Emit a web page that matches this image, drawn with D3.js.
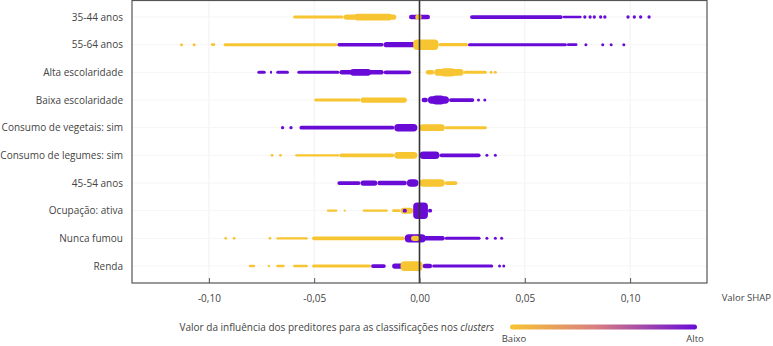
<!DOCTYPE html>
<html>
<head>
<meta charset="utf-8">
<script src="https://cdn.jsdelivr.net/npm/d3@7"></script>
<style>
  body { margin: 0; background: #fff; }
  svg { font-family: "Open Sans", sans-serif; }
</style>
</head>
<body>
<svg id="chart"></svg>
<script>
// set the dimensions of the picture
var width = 773;
var height = 346;
var plot = { left: 132, right: 707, top: 0.5, bottom: 283 };

var features = ['35-44 anos', '55-64 anos', 'Alta escolaridade', 'Baixa escolaridade',
  'Consumo de vegetais: sim', 'Consumo de legumes: sim', '45-54 anos',
  'Ocupação: ativa', 'Nunca fumou', 'Renda'];

var xTicks = [-0.10, -0.05, 0, 0.05, 0.10];

// swarm pieces: [shap from, shap to, density, feature level (0 low, 1 high)]
// from == to means a single point
var swarm_35_44 = [
  [-0.060, -0.036, 2, 0], [-0.036, -0.011, 3.5, 0], [-0.031, -0.013, 4.5, 0],
  [-0.005, 0.005, 3, 1], [-0.002, 0.001, 3.5, 0],
  [0.024, 0.068, 2.5, 1], [0.068, 0.077, 1.8, 1],
  [0.0785, 0.0785, 1.8, 1], [0.081, 0.081, 1.8, 1], [0.083, 0.083, 1.8, 1], [0.086, 0.086, 1.8, 1], [0.088, 0.088, 1.8, 1],
  [0.099, 0.099, 1.8, 1], [0.102, 0.102, 1.8, 1], [0.105, 0.105, 1.8, 1], [0.109, 0.109, 1.8, 1]
];
var swarm_55_64 = [
  [-0.113, -0.113, 1.6, 0], [-0.107, -0.107, 1.6, 0], [-0.099, -0.097, 1.8, 0],
  [-0.093, -0.039, 2, 0], [-0.039, -0.017, 2.3, 1], [-0.017, -0.002, 3.5, 1],
  [-0.003, 0.009, 7, 0], [0.009, 0.023, 2.2, 0],
  [0.023, 0.070, 2, 1], [0.070, 0.075, 1.8, 1],
  [0.079, 0.079, 1.6, 1], [0.087, 0.087, 1.6, 1], [0.091, 0.091, 1.6, 1], [0.097, 0.097, 1.6, 1]
];
var swarm_alta = [
  [-0.077, -0.073, 2, 1], [-0.071, -0.070, 2, 1], [-0.068, -0.062, 2, 1],
  [-0.058, -0.038, 2, 1], [-0.038, -0.017, 3, 1], [-0.033, -0.023, 4.5, 1], [-0.017, -0.004, 2.5, 1],
  [0.003, 0.007, 3, 0], [0.007, 0.021, 4.5, 0], [0.010, 0.017, 5.5, 0], [0.021, 0.032, 2, 0],
  [0.034, 0.034, 1.6, 0], [0.036, 0.036, 1.6, 0]
];
var swarm_baixa = [
  [-0.050, -0.028, 2, 0], [-0.028, -0.006, 3.5, 0],
  [0.001, 0.004, 3, 1], [0.004, 0.014, 5, 1], [0.006, 0.012, 6, 1], [0.014, 0.026, 2.5, 1],
  [0.028, 0.028, 1.6, 1], [0.031, 0.031, 1.6, 1]
];
var swarm_vegetais = [
  [-0.065, -0.065, 1.8, 1], [-0.061, -0.061, 1.8, 1],
  [-0.057, -0.012, 2.5, 1], [-0.012, -0.001, 5, 1],
  [0, 0.012, 4.5, 0], [0.012, 0.032, 2, 0]
];
var swarm_legumes = [
  [-0.070, -0.070, 1.5, 0], [-0.066, -0.066, 1.5, 0],
  [-0.059, -0.038, 1.6, 0], [-0.038, -0.012, 2.5, 0], [-0.012, -0.001, 4.5, 0],
  [0, 0.0095, 5, 1], [0.0095, 0.029, 2.5, 1],
  [0.032, 0.032, 1.6, 1], [0.036, 0.036, 1.6, 1]
];
var swarm_45_54 = [
  [-0.039, -0.028, 2.5, 1], [-0.028, -0.020, 3.5, 1], [-0.020, -0.006, 3, 1], [-0.006, -0.0005, 5, 1],
  [0, 0.012, 5, 0], [0.012, 0.018, 2.5, 0]
];
var swarm_ocupacao = [
  [-0.044, -0.039, 1.5, 0], [-0.036, -0.035, 1.5, 0], [-0.027, -0.015, 1.5, 0], [-0.013, -0.009, 1.8, 0],
  [-0.009, -0.003, 4, 0], [-0.008, -0.006, 2.5, 1],
  [-0.003, 0.004, 11, 1], [0.004, 0.006, 2.5, 1]
];
var swarm_fumou = [
  [-0.092, -0.092, 1.5, 0], [-0.088, -0.088, 1.5, 0], [-0.071, -0.071, 1.5, 0],
  [-0.068, -0.053, 1.6, 0], [-0.051, -0.007, 2.5, 0],
  [-0.007, 0.003, 5.5, 1], [-0.004, 0.0, 3.5, 0],
  [0.002, 0.012, 3, 1], [0.012, 0.029, 2, 1],
  [0.032, 0.032, 1.6, 1], [0.036, 0.036, 1.6, 1], [0.039, 0.039, 1.6, 1]
];
var swarm_renda = [
  [-0.081, -0.078, 1.6, 0], [-0.072, -0.071, 1.6, 0], [-0.068, -0.064, 1.6, 0], [-0.060, -0.053, 1.6, 0],
  [-0.051, -0.023, 2, 0], [-0.023, -0.016, 2.5, 1], [-0.013, -0.006, 3.5, 1],
  [-0.009, 0.0015, 6.5, 0], [0.0015, 0.006, 3, 1], [0.006, 0.035, 2, 1],
  [0.038, 0.038, 1.6, 1], [0.040, 0.040, 1.6, 1]
];

var swarms = [swarm_35_44, swarm_55_64, swarm_alta, swarm_baixa, swarm_vegetais,
  swarm_legumes, swarm_45_54, swarm_ocupacao, swarm_fumou, swarm_renda];

var lowColor = '#f7c531';
var highColor = '#680bd7';

var svg = d3.select('#chart')
  .attr('width', width)
  .attr('height', height);

var xScale = d3.scaleLinear()
  .domain([-0.1365, 0.1365])
  .range([plot.left, plot.right]);

var yScale = d3.scalePoint()
  .domain(features)
  .range([17, 266]);

// density -> thickness in px
var thick = d3.scaleLinear().domain([0, 10]).range([0, 15]);

// faint grid
svg.append('g')
  .selectAll('line')
  .data(xTicks)
  .enter()
  .append('line')
    .attr('x1', d => xScale(d)).attr('x2', d => xScale(d))
    .attr('y1', plot.top).attr('y2', plot.bottom)
    .style('stroke', '#f1f1f1');

svg.append('g')
  .selectAll('line')
  .data(features)
  .enter()
  .append('line')
    .attr('x1', plot.left).attr('x2', plot.right)
    .attr('y1', d => yScale(d)).attr('y2', d => yScale(d))
    .style('stroke', '#f5f5f5');

// the swarms
features.forEach(function(f, i) {
  var g = svg.append('g');
  var cy = yScale(f);
  swarms[i].forEach(function(p) {
    var h = thick(p[2]);
    var col = p[3] ? highColor : lowColor;
    if (p[0] === p[1]) {
      g.append('circle')
        .attr('cx', xScale(p[0]))
        .attr('cy', cy)
        .attr('r', h / 2 + 0.3)
        .style('fill', col);
    } else {
      var x0 = xScale(p[0]), x1 = xScale(p[1]);
      g.append('rect')
        .attr('x', x0)
        .attr('y', cy - h / 2)
        .attr('width', x1 - x0)
        .attr('height', h)
        .attr('rx', Math.min(h / 2, (x1 - x0) / 2, 4))
        .style('fill', col);
    }
  });
});

// frame
svg.append('rect')
  .attr('x', plot.left).attr('y', plot.top)
  .attr('width', plot.right - plot.left)
  .attr('height', plot.bottom - plot.top)
  .style('fill', 'none')
  .style('stroke', '#555')
  .style('stroke-width', 1.2);

// zero line
svg.append('line')
  .attr('x1', xScale(0)).attr('x2', xScale(0))
  .attr('y1', plot.top).attr('y2', plot.bottom)
  .style('stroke', '#333')
  .style('stroke-width', 1.6);

// x axis, ticks pointing inside
var xAxis = d3.axisBottom(xScale)
  .tickValues(xTicks)
  .tickSizeInner(-5)
  .tickSizeOuter(0)
  .tickPadding(12)
  .tickFormat(d => d3.format('.2f')(d).replace('.', ',').replace('−', '-'));

var ax = svg.append('g')
  .attr('transform', 'translate(0,' + plot.bottom + ')')
  .call(xAxis);
ax.select('.domain').remove();
ax.selectAll('line').style('stroke', '#555');
ax.selectAll('text')
  .style('font-family', '"Open Sans", sans-serif')
  .style('font-size', '10px')
  .style('fill', '#444');

svg.append('text')
  .attr('x', 771).attr('y', 301)
  .attr('text-anchor', 'end')
  .style('font-size', '9.5px')
  .style('fill', '#444')
  .text('Valor SHAP');

// feature labels
svg.append('g')
  .selectAll('text')
  .data(features)
  .enter()
  .append('text')
    .attr('x', 123)
    .attr('y', d => yScale(d))
    .attr('dy', '0.35em')
    .attr('text-anchor', 'end')
    .style('font-size', '10px')
    .style('fill', '#444')
    .text(d => d);

// colour legend
var grad = svg.append('defs').append('linearGradient')
  .attr('id', 'lg');
grad.append('stop').attr('offset', '0%').attr('stop-color', lowColor);
grad.append('stop').attr('offset', '45%').attr('stop-color', '#d9807f');
grad.append('stop').attr('offset', '100%').attr('stop-color', highColor);

svg.append('rect')
  .attr('x', 510).attr('y', 324.5)
  .attr('width', 187).attr('height', 5)
  .attr('rx', 2.5)
  .style('fill', 'url(#lg)');

var lt = svg.append('text')
  .attr('x', 494).attr('y', 331)
  .attr('text-anchor', 'end')
  .style('font-size', '10px')
  .style('fill', '#444');
lt.append('tspan').text('Valor da influência dos preditores para as classificações nos ');
lt.append('tspan').style('font-style', 'italic').text('clusters');

svg.append('text')
  .attr('x', 514).attr('y', 342)
  .attr('text-anchor', 'middle')
  .style('font-size', '9.5px')
  .style('fill', '#444')
  .text('Baixo');

svg.append('text')
  .attr('x', 695).attr('y', 342)
  .attr('text-anchor', 'middle')
  .style('font-size', '9.5px')
  .style('fill', '#444')
  .text('Alto');
</script>
</body>
</html>
